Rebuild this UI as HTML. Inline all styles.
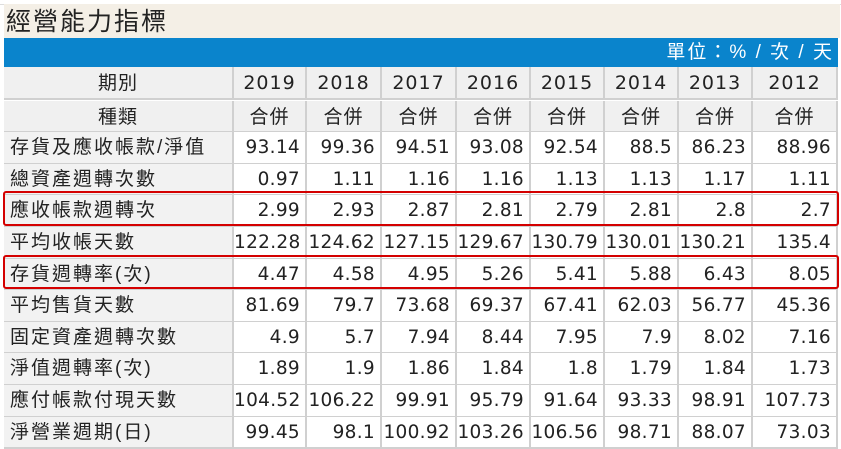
<!DOCTYPE html>
<html><head><meta charset="utf-8">
<style>
body{margin:0;width:841px;height:447px;overflow:hidden;background:#fff;font-family:"Liberation Sans","Noto Sans CJK TC",sans-serif;position:relative}
.c{position:absolute;box-sizing:border-box;font-size:19px;color:#222;line-height:32px;white-space:nowrap;border-right:2px solid #d0d0d0;border-bottom:2px solid #d0d0d0}
.lab{background:#f2f2f2;padding-left:6px;letter-spacing:2px}
.hd{background:#f0f0f0;text-align:center;font-family:"DejaVu Sans","Noto Sans CJK TC",sans-serif;letter-spacing:1px}
.num{background:#fff;text-align:right;padding-right:5px;font-family:"DejaVu Sans",sans-serif;font-size:18.5px;letter-spacing:0.3px}
.box{position:absolute;border:2.5px solid #d40000;border-radius:3px;box-sizing:border-box}
</style></head><body>
<div style="position:absolute;left:0;top:0;width:841px;height:4px;background:#fff;border-bottom:1px solid #ddd"></div>
<div style="position:absolute;left:4px;top:4px;width:834px;height:34px;background:#f4efe6;font-size:25px;line-height:36px;padding-left:2px;letter-spacing:2px;color:#222">經營能力指標</div>
<div style="position:absolute;left:4px;top:38px;width:834px;height:29px;background:#0a84cc;color:#fff;font-size:19px;line-height:29px;text-align:right;padding-right:4px;box-sizing:border-box;letter-spacing:2px">單位：% / 次 / 天</div>
<div id="tbl"></div>
<script>
const years=["2019","2018","2017","2016","2015","2014","2013","2012"];
const labels=["存貨及應收帳款/淨值","總資產週轉次數","應收帳款週轉次","平均收帳天數","存貨週轉率(次)","平均售貨天數","固定資產週轉次數","淨值週轉率(次)","應付帳款付現天數","淨營業週期(日)"];
const values=[
["93.14","99.36","94.51","93.08","92.54","88.5","86.23","88.96"],
["0.97","1.11","1.16","1.16","1.13","1.13","1.17","1.11"],
["2.99","2.93","2.87","2.81","2.79","2.81","2.8","2.7"],
["122.28","124.62","127.15","129.67","130.79","130.01","130.21","135.4"],
["4.47","4.58","4.95","5.26","5.41","5.88","6.43","8.05"],
["81.69","79.7","73.68","69.37","67.41","62.03","56.77","45.36"],
["4.9","5.7","7.94","8.44","7.95","7.9","8.02","7.16"],
["1.89","1.9","1.86","1.84","1.8","1.79","1.84","1.73"],
["104.52","106.22","99.91","95.79","91.64","93.33","98.91","107.73"],
["99.45","98.1","100.92","103.26","106.56","98.71","88.07","73.03"]];
const colX=[4,234,307,382,457,531,605,679,753,838];
const rowH=31.6, top0=69;
const T=document.getElementById('tbl');
function cell(cls,x0,x1,y,txt,name){
  const d=document.createElement('div');
  d.className='c '+cls;
  d.style.left=x0+'px';d.style.width=(x1-x0)+'px';
  d.style.top=y+'px';d.style.height=(rowH+1)+'px';
  d.textContent=txt;
  
  
  T.appendChild(d);
}
cell('hd',colX[0],colX[1],top0-2,'期別','period-header');
cell('hd',colX[0],colX[1],top0+rowH,'種類','type-header');
years.forEach((y,i)=>{
  cell('hd',colX[i+1],colX[i+2],top0-2,y,'year-'+y);
  cell('hd',colX[i+1],colX[i+2],top0+rowH,'合併','consolidated-'+y);
});
labels.forEach((l,r)=>{
  const y=top0+rowH*(r+2);
  cell('lab',colX[0],colX[1],y,l,'row-label');
  values[r].forEach((v,i)=>cell('num',colX[i+1],colX[i+2],y,v,'value-cell'));
});
[2,4].forEach(r=>{
  const b=document.createElement('div');
  b.className='box';
  b.style.left='3px';b.style.width='836px';
  b.style.top=(top0+rowH*(r+2)-4)+'px';b.style.height=(rowH+3)+'px';
  
  
  document.body.appendChild(b);
});
</script>
</body></html>
